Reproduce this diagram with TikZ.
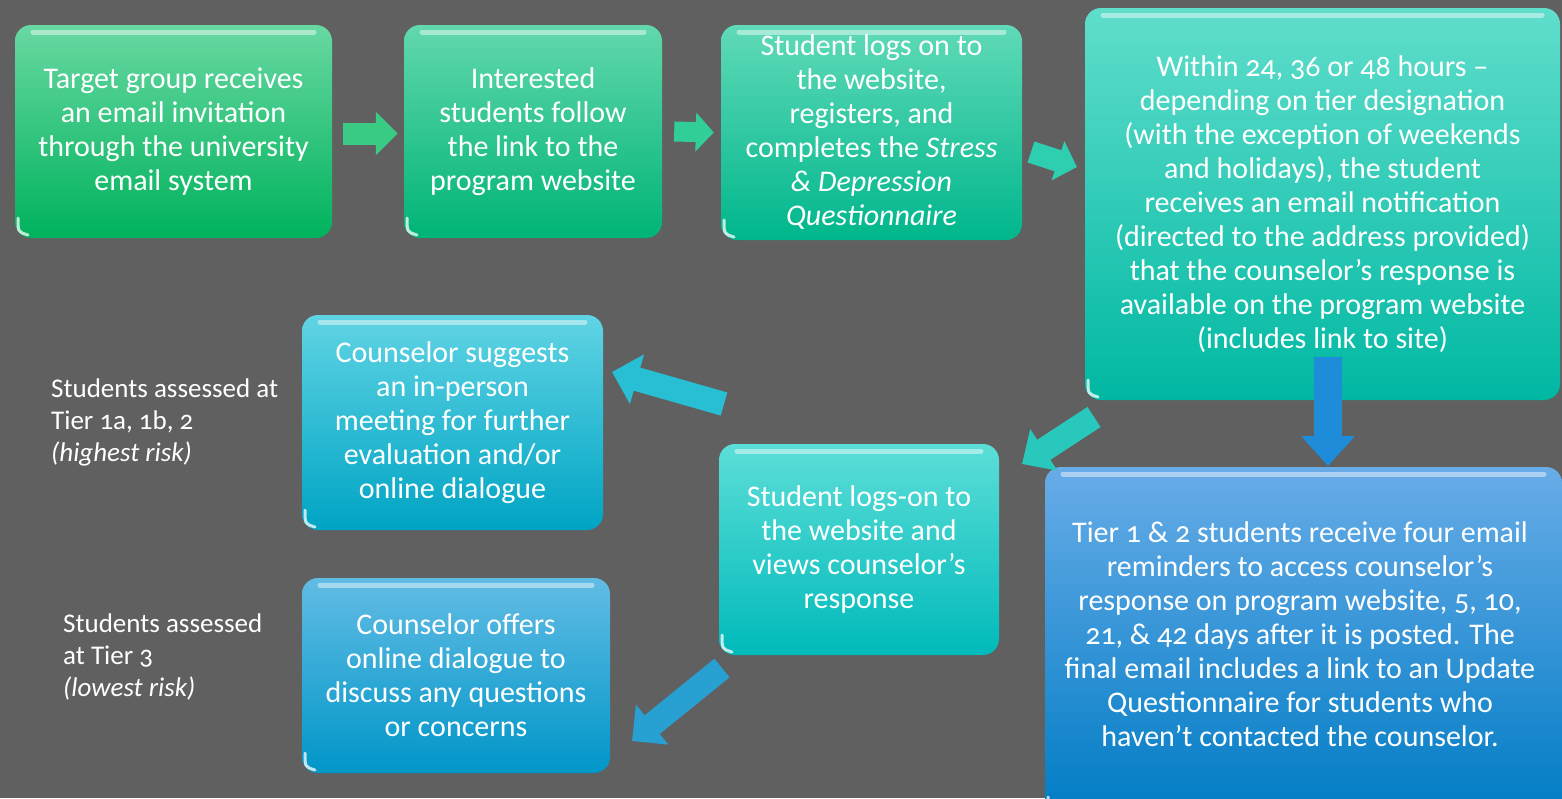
\documentclass[tikz,border=0pt]{standalone}
\usepackage{fontspec}
\setmainfont{Carlito}[Numbers=OldStyle]
\usetikzlibrary{arrows.meta,calc}
\definecolor{bg}{RGB}{96,96,96}
\definecolor{aT}{RGB}{104,216,162}\definecolor{aB}{RGB}{0,178,92}
\definecolor{bT}{RGB}{98,216,172}\definecolor{bB}{RGB}{0,180,118}
\definecolor{cT}{RGB}{96,218,184}\definecolor{cB}{RGB}{0,182,140}
\definecolor{dT}{RGB}{96,222,204}\definecolor{dB}{RGB}{0,184,162}
\definecolor{gT}{RGB}{92,222,216}\definecolor{gB}{RGB}{0,186,186}
\definecolor{eT}{RGB}{96,212,228}\definecolor{eB}{RGB}{0,164,196}
\definecolor{fT}{RGB}{98,188,228}\definecolor{fB}{RGB}{0,150,200}
\definecolor{hT}{RGB}{104,172,232}\definecolor{hB}{RGB}{0,124,196}
\definecolor{arAB}{RGB}{58,204,132}
\definecolor{arBC}{RGB}{50,206,152}
\definecolor{arCD}{RGB}{46,206,176}
\definecolor{arDG}{RGB}{40,200,188}
\definecolor{arGE}{RGB}{40,190,212}
\definecolor{arGF}{RGB}{40,160,210}
\definecolor{arDH}{RGB}{30,140,216}
\tikzset{
  boxstyle/.style={rounded corners=16pt, inner sep=0pt, text=white, align=center,
    font=\fontsize{30}{34}\selectfont,
    path picture={
      \draw[white,opacity=0.45,line width=5pt,line cap=round]
        ([xshift=18pt,yshift=-7pt]path picture bounding box.north west) --
        ([xshift=-18pt,yshift=-7pt]path picture bounding box.north east);
      \draw[white,opacity=0.75,line width=3pt,line cap=round]
        ([xshift=3pt,yshift=20pt]path picture bounding box.south west) .. controls
        ([xshift=3pt,yshift=6pt]path picture bounding box.south west) ..
        ([xshift=13pt,yshift=3pt]path picture bounding box.south west);
    }},
  sidelabel/.style={text=white, align=left, anchor=north west, inner sep=0pt,
    font=\fontsize{27}{32}\selectfont},
  blockarrow/.style n args={4}{draw=#1, line width=#2,
    -{Triangle[length=#4,width=#3]}}
}
\begin{document}
\begin{tikzpicture}[x=1pt,y=-1pt]
\fill[bg] (0,0) rectangle (1562,798);
\useasboundingbox (0,0) rectangle (1562,798);
\clip (0,0) rectangle (1562,798);

% top row
\node[boxstyle, top color=aT, bottom color=aB, minimum width=317pt, minimum height=213pt]
  (A) at (173.5,131.5) {Target group receives\\an email invitation\\through the university\\email system};
\node[boxstyle, top color=bT, bottom color=bB, minimum width=258pt, minimum height=213pt]
  (B) at (533,131.5) {Interested\\students follow\\the link to the\\program website};
\node[boxstyle, top color=cT, bottom color=cB, minimum width=301pt, minimum height=215pt]
  (C) at (871.5,132.5) {Student logs on to\\the website,\\registers, and\\completes the \textit{Stress}\\\textit{\& Depression}\\\textit{Questionnaire}};
\node[boxstyle, top color=dT, bottom color=dB, minimum width=475pt, minimum height=392pt]
  (D) at (1322.5,204) {Within 24, 36 or 48 hours –\\depending on tier designation\\(with the exception of weekends\\and holidays), the student\\receives an email notification\\(directed to the address provided)\\that the counselor’s response is\\available on the program website\\(includes link to site)};

% lower
\node[boxstyle, top color=eT, bottom color=eB, minimum width=301pt, minimum height=215pt]
  (E) at (452.5,422.5) {Counselor suggests\\an in-person\\meeting for further\\evaluation and/or\\online dialogue};
\node[boxstyle, top color=fT, bottom color=fB, minimum width=308pt, minimum height=195pt]
  (F) at (456,675.5) {Counselor offers\\online dialogue to\\discuss any questions\\or concerns};
\node[boxstyle, top color=gT, bottom color=gB, minimum width=280pt, minimum height=211pt]
  (G) at (859,549.5) {Student logs-on to\\the website and\\views counselor’s\\response};
\node[boxstyle, top color=hT, bottom color=hB, minimum width=517pt, minimum height=350pt]
  (H) at (1303.5,642) {};
\node[text=white, align=center, font=\fontsize{30}{34}\selectfont, inner sep=0pt]
  (Ht) at (1300,634) {Tier 1 \& 2 students receive four email\\reminders to access counselor’s\\response on program website, 5, 10,\\21, \& 42 days after it is posted. The\\final email includes a link to an Update\\Questionnaire for students who\\haven’t contacted the counselor.};

% side labels
\node[sidelabel] (L1) at (51,379) {Students assessed at\\Tier 1a, 1b, 2\\\textit{(highest risk)}};
\node[sidelabel] (L2) at (63,614) {Students assessed\\at Tier 3\\\textit{(lowest risk)}};

% arrows
\coordinate (cdS) at (1031,152);
\coordinate (cdE) at (1077,167);
\coordinate (dhS) at (1328,357);
\coordinate (dhE) at (1328,466);
\coordinate (dgS) at (1094,417);
\coordinate (dgE) at (1022,464);
\coordinate (geS) at (724,404);
\coordinate (geE) at (612,372);
\coordinate (gfS) at (722,668);
\coordinate (gfE) at (632,741);

\draw[blockarrow={arAB}{22pt}{42pt}{22pt}] ([xshift=11pt,yshift=-2pt]A.east) -- ([xshift=-6pt,yshift=-2pt]B.west);
\draw[blockarrow={arBC}{20pt}{38pt}{18pt}] ([xshift=12pt]B.east) -- ([xshift=-7pt]C.west);
\draw[blockarrow={arCD}{22pt}{40pt}{20pt}] (cdS) -- (cdE);
\draw[blockarrow={arDH}{28pt}{52pt}{30pt}] (dhS) -- (dhE);
\draw[blockarrow={arDG}{24pt}{48pt}{26pt}] (dgS) -- (dgE);
\draw[blockarrow={arGE}{24pt}{50pt}{26pt}] (geS) -- (geE);
\draw[blockarrow={arGF}{24pt}{50pt}{26pt}] (gfS) -- (gfE);
\end{tikzpicture}
\end{document}
